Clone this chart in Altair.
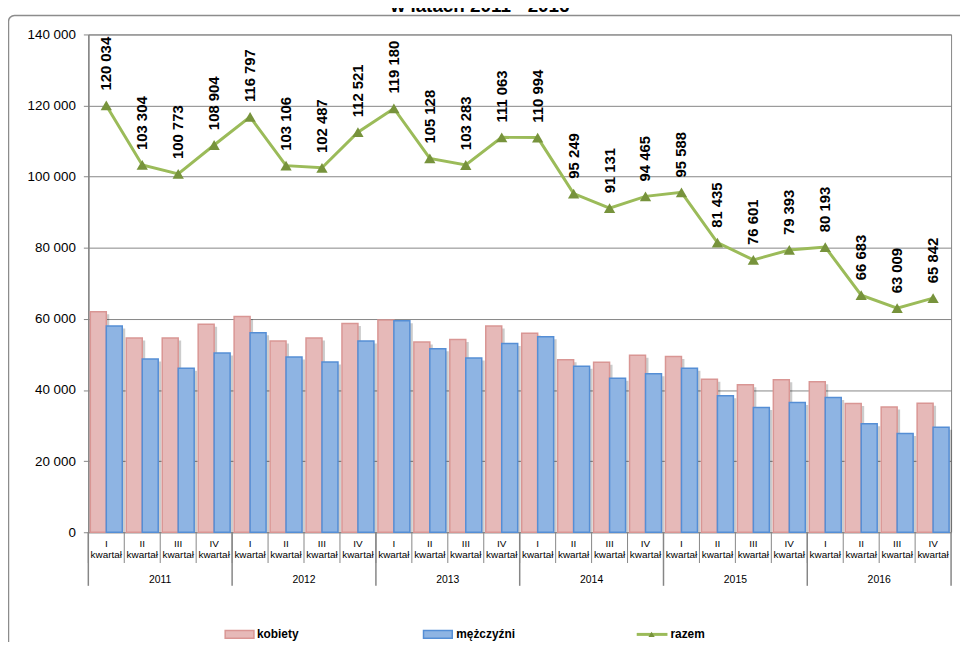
import altair as alt
import pandas as pd

# ---------------- data ----------------
years = ["2011", "2012", "2013", "2014", "2015", "2016"]
quarters = ["I", "II", "III", "IV"]
quarter_word = "kwartał"
series = ["kobiety", "mężczyźni", "razem"]
title_text = "w latach 2011 - 2016"

kobiety = [62000, 54600, 54600, 58500, 60700, 53800, 54600, 58700, 59700, 53500, 54200, 58000,
           56000, 48500, 47800, 49800, 49400, 43000, 41500, 42900, 42300, 36200, 35200, 36300]
mezczyzni = [58000, 48700, 46100, 50400, 56100, 49300, 47900, 53800, 59500, 51600, 49000, 53100,
             55000, 46700, 43300, 44600, 46100, 38400, 35100, 36500, 37900, 30500, 27800, 29500]
razem = [120034, 103304, 100773, 108904, 116797, 103106, 102487, 112521, 119180, 105128, 103283, 111063,
         110994, 95249, 91131, 94465, 95588, 81435, 76601, 79393, 80193, 66683, 63009, 65842]
y_ticks = [0, 20000, 40000, 60000, 80000, 100000, 120000, 140000]

# ---------------- tables ----------------
rows = []
i = 0
for yr in years:
    for q in quarters:
        rows.append({"idx": i, "year": yr, "q": q, "word": quarter_word,
                     "kobiety": kobiety[i], "mezczyzni": mezczyzni[i], "razem": razem[i],
                     "label": f"{razem[i]:,}".replace(",", " ")})
        i += 1
df = pd.DataFrame(rows)
long = pd.concat([
    pd.DataFrame({"idx": df["idx"], "series": series[0], "value": df["kobiety"]}),
    pd.DataFrame({"idx": df["idx"], "series": series[1], "value": df["mezczyzni"]}),
])
one = pd.DataFrame({"k": [0]})

W, H = 870, 502
FONT = "Liberation Sans"
GRID = "#868686"
PINK, PINK_S = "#E6B9B8", "#D99694"
BLUE, BLUE_S = "#8EB4E3", "#558ED5"
GREEN, GREEN_D = "#9BBB59", "#77933C"

xs = alt.Scale(paddingInner=0, paddingOuter=0)
X = alt.X("idx:O", axis=None, scale=xs)
ys = alt.Scale(domain=[0, 140000], nice=False, zero=True)
y_axis = alt.Axis(values=y_ticks, labelExpr="replace(format(datum.value, ','), ',', ' ')",
                  grid=True, gridColor=GRID, gridWidth=1, domainColor=GRID, domainWidth=1.5,
                  tickColor=GRID, tickSize=5, labelFont=FONT, labelFontSize=13.5,
                  labelColor="black", labelPadding=8, title=None)

frame = alt.Chart(one).mark_rect(filled=False, color="#8c8c8c", strokeWidth=1.5, cornerRadius=6).encode(
    x=alt.value(-80.5), x2=alt.value(W + 40), y=alt.value(-19), y2=alt.value(H + 200))

title = alt.Chart(one).mark_text(font=FONT, fontSize=19, fontWeight="bold", baseline="alphabetic",
                                 align="center", color="black").encode(
    x=alt.value(395), y=alt.value(-23), text=alt.value(title_text))

shadow = alt.Chart(long).transform_calculate(vs="datum.value - 700").mark_bar(
    color="#000000", opacity=0.2).encode(
    x=X,
    xOffset=alt.XOffset("series:N", sort=series[:2],
                        scale=alt.Scale(range=[3, 39.25], paddingInner=0, paddingOuter=0.125)),
    y=alt.Y("vs:Q", scale=ys, axis=y_axis, title=None),
)

bars = alt.Chart(long).mark_bar(strokeWidth=1.5).encode(
    x=X,
    xOffset=alt.XOffset("series:N", sort=series[:2], scale=alt.Scale(paddingInner=0, paddingOuter=0.125)),
    y=alt.Y("value:Q", scale=ys, axis=y_axis, title=None),
    fill=alt.Fill("series:N", scale=alt.Scale(domain=series[:2], range=[PINK, BLUE]), legend=None),
    stroke=alt.Stroke("series:N", scale=alt.Scale(domain=series[:2], range=[PINK_S, BLUE_S]), legend=None),
)

line = alt.Chart(df).mark_line(color=GREEN, strokeWidth=3).encode(
    x=X, y=alt.Y("razem:Q", scale=ys, axis=y_axis, title=None))
pts = alt.Chart(df).mark_point(shape="triangle-up", filled=True, size=130, color=GREEN_D, opacity=1).encode(
    x=X, y=alt.Y("razem:Q", scale=ys, axis=y_axis, title=None))
labels = alt.Chart(df).mark_text(angle=270, align="left", baseline="middle", dx=15, font=FONT,
                                 fontSize=15, fontWeight="bold", color="black").encode(
    x=X, y=alt.Y("razem:Q", scale=ys, axis=y_axis, title=None), text="label:N")

# category axis (two levels)
q_sep = alt.Chart(df).mark_rule(color=GRID, strokeWidth=1).encode(
    x=alt.X("idx:O", axis=None, scale=xs, bandPosition=0), y=alt.value(H), y2=alt.value(H + 31))
y_sep = alt.Chart(df).transform_filter("datum.q == 'I'").mark_rule(color=GRID, strokeWidth=1.5).encode(
    x=alt.X("idx:O", axis=None, scale=xs, bandPosition=0), y=alt.value(H), y2=alt.value(H + 54))
end_sep = alt.Chart(one).mark_rule(color=GRID, strokeWidth=1.5).encode(
    x=alt.value(W), y=alt.value(H), y2=alt.value(H + 54))
q_lab = alt.Chart(df).mark_text(font=FONT, fontSize=10, color="black").encode(
    x=X, y=alt.value(H + 12), text="q:N")
w_lab = alt.Chart(df).mark_text(font=FONT, fontSize=10, color="black").encode(
    x=X, y=alt.value(H + 23), text="word:N")
yr_lab = alt.Chart(df).transform_filter("datum.q == 'II'").mark_text(font=FONT, fontSize=10.5, color="black").encode(
    x=alt.X("idx:O", axis=None, scale=xs, bandPosition=1), y=alt.value(H + 48), text="year:N")

# legend
LY = 605
leg = []
leg.append(alt.Chart(one).mark_rect(fill=PINK, stroke=PINK_S, strokeWidth=1.5).encode(
    x=alt.value(138), x2=alt.value(167), y=alt.value(LY - 4), y2=alt.value(LY + 4)))
leg.append(alt.Chart(one).mark_rect(fill=BLUE, stroke=BLUE_S, strokeWidth=1.5).encode(
    x=alt.value(338), x2=alt.value(367), y=alt.value(LY - 4), y2=alt.value(LY + 4)))
leg.append(alt.Chart(one).mark_rule(color=GREEN, strokeWidth=3).encode(
    x=alt.value(553), x2=alt.value(584), y=alt.value(LY)))
leg.append(alt.Chart(one).mark_point(shape="triangle-up", filled=True, size=40, color=GREEN_D, opacity=1).encode(
    x=alt.value(568), y=alt.value(LY)))
for xpos, name in [(170, series[0]), (371, series[1]), (587, series[2])]:
    leg.append(alt.Chart(one).mark_text(font=FONT, fontSize=12, fontWeight="bold", align="left",
                                        baseline="middle", color="black").encode(
        x=alt.value(xpos), y=alt.value(LY), text=alt.value(name)))

chart = alt.layer(
    frame, title, shadow, bars, line, pts, labels, q_sep, y_sep, end_sep, q_lab, w_lab, yr_lab, *leg
).resolve_scale(xOffset="independent").properties(
    width=W, height=H,
    autosize=alt.AutoSizeParams(type="none"),
    padding={"left": 81, "top": 24, "right": 9, "bottom": 108},
).configure_view(stroke=GRID, strokeWidth=1)

chart.save("out.html", embed_options={"renderer": "svg", "actions": False})
